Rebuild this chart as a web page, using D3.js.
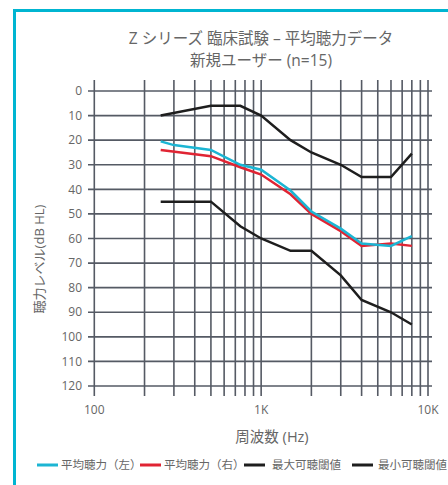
<!DOCTYPE html>
<html><head><meta charset="utf-8">
<script src="https://cdn.jsdelivr.net/npm/d3@7/dist/d3.min.js"></script>
<style>body{margin:0;background:#fff}svg{display:block}</style>
</head><body>
<script>
const titleLines = ["Z シリーズ 臨床試験 – 平均聴力データ", "新規ユーザー (n=15)"];
const xTickValues = [100, 1000, 10000];
const xTickLabels = ["100", "1K", "10K"];
const yTickValues = [0,10,20,30,40,50,60,70,80,90,100,110,120];
const seriesNames = ["平均聴力（左）", "平均聴力（右）", "最大可聴閾値", "最小可聴閾値"];
const seriesColors = ["#1cb5d3", "#e02433", "#1e1e1e", "#1e1e1e"];
const leftFreq = [250, 300, 500, 750, 1000, 1500, 2000, 3000, 4000, 6000, 8000];
const leftVals = [20.5, 22, 24, 30, 32, 40.5, 49, 56, 62, 63, 59];
const rightFreq = [250, 500, 750, 1000, 1500, 2000, 3000, 4000, 6000, 8000];
const rightVals = [24, 26.5, 31, 34, 42, 50, 57, 63, 62, 63];
const maxFreq = [250, 500, 750, 1000, 1500, 2000, 3000, 4000, 6000, 8000];
const maxVals = [10, 6, 6, 10, 20, 25, 30, 35, 35, 25.5];
const minFreq = [250, 500, 750, 1000, 1500, 2000, 3000, 4000, 6000, 8000];
const minVals = [45, 45, 55, 60, 65, 65, 75, 85, 90, 95];

const W = 448, H = 485;
const svg = d3.select("body").append("svg").attr("width", W).attr("height", H);
const font = "'Open Sans','Noto Sans CJK JP',sans-serif";
const textColor = "#666";

// border
svg.append("rect").attr("x", 14.5).attr("y", 10.5).attr("width", 480).attr("height", 520)
  .attr("fill", "none").attr("stroke", "#00b5d1").attr("stroke-width", 3);

const x = d3.scaleLog().domain([100, 10000]).range([94.3, 428]);
const y = d3.scaleLinear().domain([0, 120]).range([91, 386]);

// grid
const vTicks = [];
for (let dec = 100; dec < 10000; dec *= 10) for (let m = 1; m < 10; m++) vTicks.push(dec * m);
vTicks.push(10000);
const g = svg.append("g");
g.selectAll("line.v").data(vTicks).join("line")
  .attr("x1", d => x(d)).attr("x2", d => x(d))
  .attr("y1", 80).attr("y2", 396)
  .attr("stroke", "#555a64").attr("stroke-width", 1.6);
g.selectAll("line.h").data(yTickValues).join("line")
  .attr("x1", 88).attr("x2", 432)
  .attr("y1", d => y(d)).attr("y2", d => y(d))
  .attr("stroke", "#555a64").attr("stroke-width", 1.6);

// y labels
svg.selectAll("text.yl").data(yTickValues).join("text")
  .attr("x", 82).attr("y", d => y(d)).attr("dy", "0.35em")
  .attr("text-anchor", "end").attr("font-family", font).attr("font-size", 12)
  .attr("fill", textColor).text(d => d);

// x labels
svg.selectAll("text.xl").data(xTickValues).join("text")
  .attr("x", d => x(d)).attr("y", 414)
  .attr("text-anchor", "middle").attr("font-family", font).attr("font-size", 12)
  .attr("fill", textColor).text((d, i) => xTickLabels[i]);

// axis titles
svg.append("text").attr("x", 272).attr("y", 442).attr("text-anchor", "middle")
  .attr("font-family", font).attr("font-size", 14.5).attr("fill", textColor).text("周波数 (Hz)");
svg.append("text").attr("transform", "translate(44,259) rotate(-90)").attr("text-anchor", "middle")
  .attr("font-family", font).attr("font-size", 13).attr("fill", textColor).text("聴力レベル(dB HL)");

// title
svg.selectAll("text.title").data(titleLines).join("text")
  .attr("x", 261).attr("y", (d, i) => 44 + i * 22).attr("text-anchor", "middle")
  .attr("font-family", font).attr("font-size", 15.5).attr("fill", textColor).text(d => d);

// series
const series = [
  {f: maxFreq, v: maxVals, c: seriesColors[2]},
  {f: minFreq, v: minVals, c: seriesColors[3]},
  {f: rightFreq, v: rightVals, c: seriesColors[1]},
  {f: leftFreq, v: leftVals, c: seriesColors[0]},
];
const line = d3.line().x(d => x(d[0])).y(d => y(d[1]));
series.forEach(s => {
  svg.append("path").attr("d", line(s.f.map((f, i) => [f, s.v[i]])))
    .attr("fill", "none").attr("stroke", s.c).attr("stroke-width", 2.5);
});

// legend
const legendX = [37, 140, 244, 352];
const legendTextX = [61, 164, 272, 378];
seriesNames.forEach((n, i) => {
  svg.append("line").attr("x1", legendX[i]).attr("x2", legendX[i] + 21)
    .attr("y1", 465).attr("y2", 465).attr("stroke", seriesColors[i]).attr("stroke-width", 3);
  svg.append("text").attr("x", legendTextX[i]).attr("y", 465).attr("dy", "0.35em")
    .attr("font-family", font).attr("font-size", 11.5).attr("fill", textColor).text(n);
});
</script>
</body></html>
